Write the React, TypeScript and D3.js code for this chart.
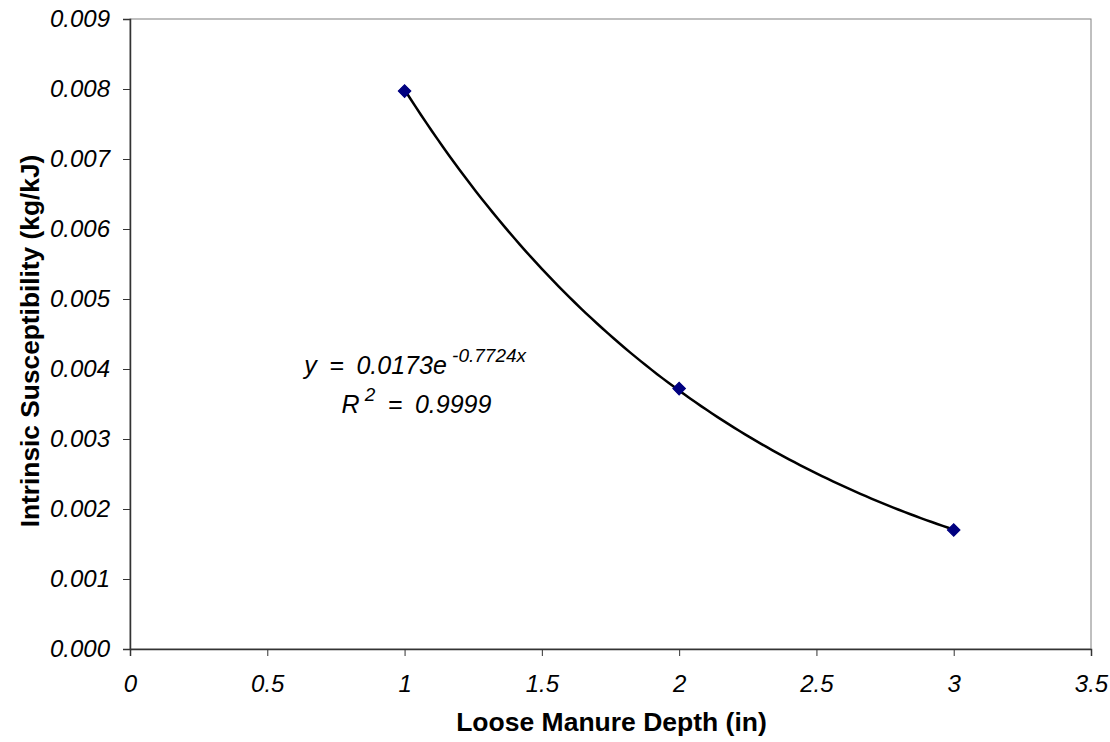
import React, { useEffect, useRef } from 'react'
import * as d3 from 'd3'

const depthIn = [1, 2, 3]
const susceptibility = [0.00797, 0.00372, 0.0017]
const xTicks = [0, 0.5, 1, 1.5, 2, 2.5, 3, 3.5]
const yTicks = [0, 0.001, 0.002, 0.003, 0.004, 0.005, 0.006, 0.007, 0.008, 0.009]
const fitA = 0.0173
const fitB = -0.7724

const W = 1110
const H = 742
const margin = { top: 19, right: 19, bottom: 93, left: 130 }
const font = '"Liberation Sans", Arial, sans-serif'

export default function App() {
  const svgRef = useRef<SVGSVGElement>(null)

  useEffect(() => {
    if (!svgRef.current) return
    const svg = d3.select(svgRef.current)
    svg.selectAll('*').remove()

    const innerW = W - margin.left - margin.right
    const innerH = H - margin.top - margin.bottom

    const x = d3.scaleLinear().domain([0, 3.5]).range([0, innerW])
    const y = d3.scaleLinear().domain([0, 0.009]).range([innerH, 0])

    const g = svg.append('g').attr('transform', `translate(${margin.left},${margin.top})`)

    // plot frame (top/right in grey)
    g.append('rect')
      .attr('width', innerW)
      .attr('height', innerH)
      .attr('fill', 'white')
      .attr('stroke', '#808080')
      .attr('stroke-width', 1)

    // x axis
    const xAxis = g.append('g')
      .attr('transform', `translate(0,${innerH})`)
      .call(d3.axisBottom(x).tickValues(xTicks).tickSize(7).tickPadding(19).tickFormat(d => String(d)))
    xAxis.select('.domain').attr('stroke', '#333').attr('stroke-width', 1.5)
    xAxis.selectAll('line').attr('stroke', '#333')
    xAxis.selectAll('text')
      .attr('font-family', font)
      .attr('font-size', 24)
      .attr('font-style', 'italic')
      .attr('fill', '#000')

    // y axis
    const yAxis = g.append('g')
      .call(d3.axisLeft(y).tickValues(yTicks).tickSize(7).tickPadding(13).tickFormat(d3.format('.3f')))
    yAxis.select('.domain').attr('stroke', '#333').attr('stroke-width', 1.5)
    yAxis.selectAll('line').attr('stroke', '#333')
    yAxis.selectAll('text')
      .attr('font-family', font)
      .attr('font-size', 24)
      .attr('font-style', 'italic')
      .attr('fill', '#000')

    // exponential trendline from the fitted equation
    const fitX = d3.range(1, 3.0001, 0.02)
    const line = d3.line<number>()
      .x(d => x(d))
      .y(d => y(fitA * Math.exp(fitB * d)))
      .curve(d3.curveMonotoneX)
    g.append('path')
      .datum(fitX)
      .attr('d', line)
      .attr('fill', 'none')
      .attr('stroke', '#000')
      .attr('stroke-width', 2.5)

    // markers (rotated squares)
    const diamond = d3.symbol().type(d3.symbolSquare).size(80)
    g.selectAll('path.pt')
      .data(depthIn)
      .enter()
      .append('path')
      .attr('class', 'pt')
      .attr('d', diamond)
      .attr('transform', (d, i) => `translate(${x(d)},${y(susceptibility[i])}) rotate(45)`)
      .attr('fill', '#000080')
      .attr('stroke', '#000080')
      .attr('stroke-width', 1)

    // equation labels
    const eq = g.append('text')
      .attr('x', x(0.635))
      .attr('y', y(0.003927))
      .attr('font-family', font)
      .attr('font-size', 25)
      .attr('font-style', 'italic')
      .attr('xml:space', 'preserve')
    eq.append('tspan').text('y\u2002=\u20020.0173e')
    eq.append('tspan').attr('dy', -12).attr('font-size', 19).text(' -0.7724x')

    const r2 = g.append('text')
      .attr('x', x(0.77))
      .attr('y', y(0.00337))
      .attr('font-family', font)
      .attr('font-size', 25)
      .attr('font-style', 'italic')
      .attr('xml:space', 'preserve')
    r2.append('tspan').text('R')
    r2.append('tspan').attr('dy', -12).attr('font-size', 19).text(' 2')
    r2.append('tspan').attr('dy', 12).text('\u2002=\u20020.9999')

    // axis titles
    svg.append('text')
      .attr('x', margin.left + innerW / 2 + 1)
      .attr('y', 731)
      .attr('text-anchor', 'middle')
      .attr('font-family', font)
      .attr('font-size', 26.5)
      .attr('font-weight', 'bold')
      .text('Loose Manure Depth (in)')

    svg.append('text')
      .attr('transform', `translate(39,${margin.top + innerH / 2 + 7}) rotate(-90)`)
      .attr('text-anchor', 'middle')
      .attr('font-family', font)
      .attr('font-size', 26.3)
      .attr('font-weight', 'bold')
      .text('Intrinsic Susceptibility (kg/kJ)')
  }, [])

  return (
    <svg
      ref={svgRef}
      width={W}
      height={H}
      style={{ position: 'absolute', left: 0, top: 0, background: 'white' }}
    />
  )
}
